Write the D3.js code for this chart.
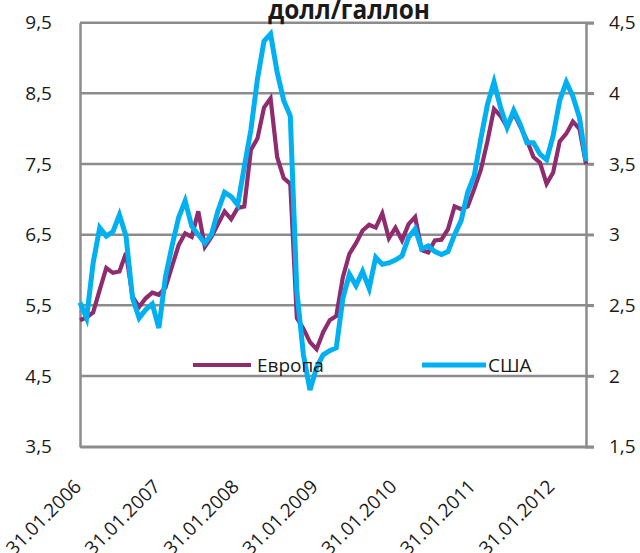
<!DOCTYPE html>
<html>
<head>
<meta charset="utf-8">
<script src="https://cdn.jsdelivr.net/npm/d3@7"></script>
<style>
  body { margin:0; background:#fff; }
  text { font-family:"Open Sans", sans-serif; fill:#1a1a1a; }
</style>
</head>
<body>
<div id="chart"></div>
<script>
var fullWidth = 640;
var fullHeight = 553;
var margin = {top:22.7, right:54, bottom:106.3, left:80};

var width = fullWidth - margin.left - margin.right;
var height = fullHeight - margin.top - margin.bottom;

// monthly, 31.01.2006 .. 30.06.2012
var months = d3.timeMonth.range(new Date(2006, 0, 1), new Date(2012, 6, 1));
var yearTicks = [0, 12, 24, 36, 48, 60, 72];
var yearLabels = ["31.01.2006", "31.01.2007", "31.01.2008", "31.01.2009", "31.01.2010", "31.01.2011", "31.01.2012"];

var europe = [5.29, 5.33, 5.40, 5.72, 6.03, 5.96, 5.98, 6.24, 5.62, 5.48,
              5.60, 5.68, 5.65, 5.75, 6.05, 6.35, 6.52, 6.47, 6.83, 6.33,
              6.47, 6.65, 6.83, 6.72, 6.88, 6.90, 7.70, 7.86, 8.30, 8.43,
              7.60, 7.30, 7.22, 5.32, 5.17, 4.98, 4.88, 5.12, 5.29, 5.35,
              5.90, 6.23, 6.38, 6.56, 6.64, 6.60, 6.80, 6.45, 6.60, 6.42,
              6.65, 6.75, 6.28, 6.25, 6.42, 6.43, 6.58, 6.90, 6.86, 6.90,
              7.15, 7.42, 7.82, 8.28, 8.18, 8.02, 8.22, 8.03, 7.84, 7.60,
              7.52, 7.22, 7.38, 7.82, 7.93, 8.10, 8.00, 7.50];

var usa = [2.52, 2.41, 2.80, 3.05, 2.99, 3.02, 3.14, 2.99, 2.55, 2.41,
           2.47, 2.51, 2.34, 2.70, 2.92, 3.12, 3.24, 3.06, 3.00, 2.94,
           3.00, 3.17, 3.30, 3.27, 3.21, 3.48, 3.74, 4.10, 4.37, 4.42,
           4.15, 3.95, 3.84, 2.60, 2.15, 1.90, 2.06, 2.15, 2.18, 2.20,
           2.55, 2.72, 2.64, 2.74, 2.62, 2.84, 2.79, 2.80, 2.82, 2.85,
           2.98, 3.04, 2.90, 2.92, 2.88, 2.86, 2.88, 3.00, 3.10, 3.30,
           3.42, 3.68, 3.92, 4.08, 3.90, 3.76, 3.88, 3.78, 3.65, 3.65,
           3.57, 3.53, 3.70, 3.95, 4.08, 3.98, 3.83, 3.52];

var leftTicks = [3.5, 4.5, 5.5, 6.5, 7.5, 8.5, 9.5];
var rightTicks = [1.5, 2, 2.5, 3, 3.5, 4, 4.5];
var seriesNames = ["Европа", "США"];
var colors = ["#8e2c6e", "#00b0f0"];

var svg = d3.select("#chart")
            .append("svg")
            .attr("width", fullWidth)
            .attr("height", fullHeight);

var g = svg.append("g")
           .attr("transform", "translate(" + margin.left + "," + margin.top + ")");

var xScale = d3.scalePoint().domain(d3.range(months.length)).range([0, width]);
var yLeft = d3.scaleLinear().domain([3.5, 9.5]).range([height, 0]);
var yRight = d3.scaleLinear().domain([1.5, 4.5]).range([height, 0]);

function comma(d) {
	return d % 1 ? d3.format(".1f")(d).replace(".", ",") : String(d);
}

// grid
g.selectAll(".grid")
 .data(leftTicks)
 .enter().append("line")
 .attr("x1", 0).attr("x2", width + 8)
 .attr("y1", function(d){ return yLeft(d); })
 .attr("y2", function(d){ return yLeft(d); })
 .attr("stroke", "#8c8c8c")
 .attr("stroke-width", 2.5);

var axisColor = "#8c8c8c";

var yAxisL = d3.axisLeft(yLeft).tickValues(leftTicks).tickFormat(comma).tickSize(0).tickPadding(28);
var gl = g.append("g").call(yAxisL);
gl.select(".domain").attr("stroke", axisColor).attr("stroke-width", 2.5);
gl.selectAll("text").style("font-size", "19px");

var yAxisR = d3.axisRight(yRight).tickValues(rightTicks).tickFormat(comma).tickSize(8).tickPadding(15);
var gr = g.append("g").attr("transform", "translate(" + width + ",0)").call(yAxisR);
gr.select(".domain").attr("stroke", axisColor).attr("stroke-width", 2.5);
gr.selectAll(".tick line").attr("stroke", axisColor).attr("stroke-width", 2.5);
gr.selectAll("text").style("font-size", "19px");

var xAxis = d3.axisBottom(xScale).tickValues(yearTicks)
              .tickFormat(function(d, i){ return yearLabels[i]; })
              .tickSize(0);
var gx = g.append("g").attr("transform", "translate(0," + height + ")").call(xAxis);
gx.select(".domain").attr("stroke", axisColor).attr("stroke-width", 2.5);
gx.selectAll("text")
  .attr("x", 0).attr("y", 0).attr("dy", 0)
  .attr("text-anchor", "end")
  .attr("transform", "translate(2,41) rotate(-45)")
  .style("font-size", "19px");

// lines
var lineL = d3.line().x(function(d, i){ return xScale(i); }).y(function(d){ return yLeft(d); });
var lineR = d3.line().x(function(d, i){ return xScale(i); }).y(function(d){ return yRight(d); });

g.append("path").datum(europe)
 .attr("d", lineL).attr("fill", "none")
 .attr("stroke", colors[0]).attr("stroke-width", 4.2);

g.append("path").datum(usa)
 .attr("d", lineR).attr("fill", "none")
 .attr("stroke", colors[1]).attr("stroke-width", 5);

// legend
var legend = [{x1:193, x2:251, tx:257}, {x1:422, x2:486, tx:488}];
legend.forEach(function(l, i){
	svg.append("line")
	   .attr("x1", l.x1).attr("x2", l.x2).attr("y1", 365).attr("y2", 365)
	   .attr("stroke", colors[i]).attr("stroke-width", i ? 5 : 4.2);
	svg.append("text")
	   .attr("x", l.tx).attr("y", 371.5)
	   .style("font-size", "19px")
	   .text(seriesNames[i]);
});

// title, partly cut by the top edge
svg.append("text")
   .attr("x", 349).attr("y", 18.5)
   .attr("text-anchor", "middle")
   .attr("textLength", 162)
   .attr("lengthAdjust", "spacingAndGlyphs")
   .style("font-size", "26px")
   .style("font-weight", "bold")
   .text("долл/галлон");
</script>
</body>
</html>
